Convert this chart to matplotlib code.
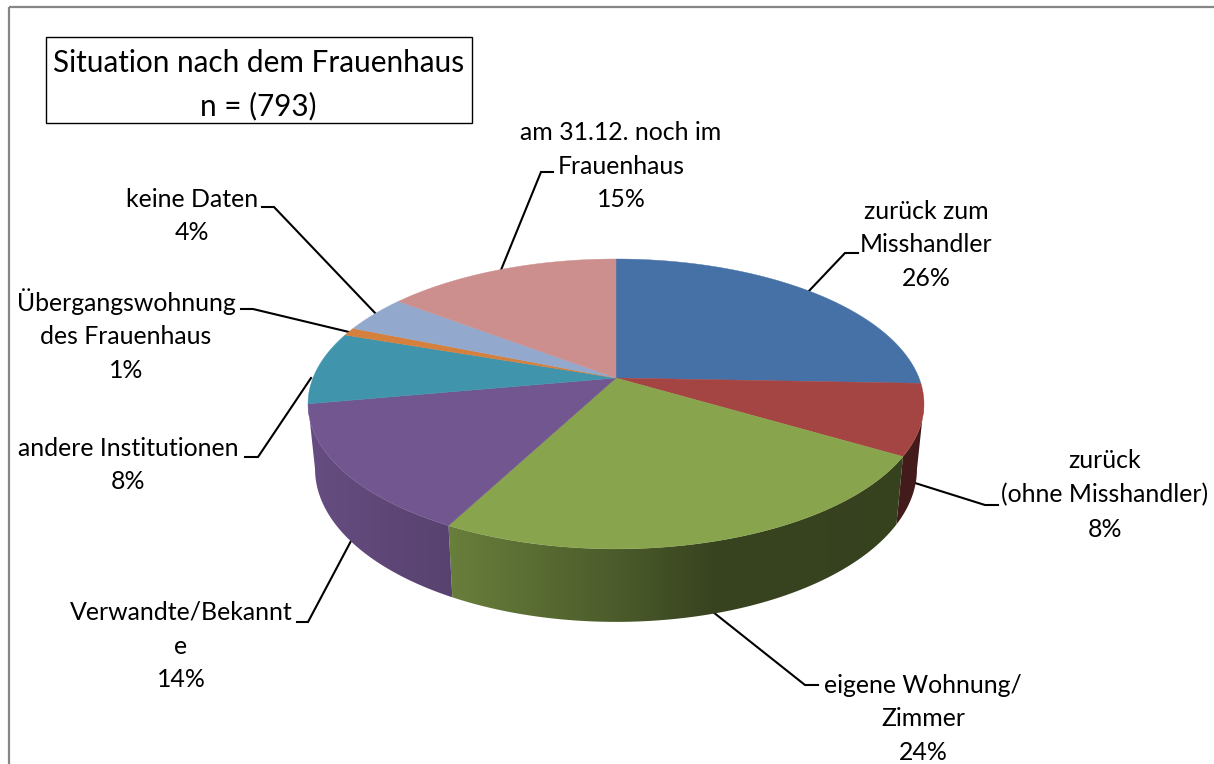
import numpy as np
import matplotlib
matplotlib.use("Agg")
import matplotlib.pyplot as plt
from matplotlib.patches import Polygon, Rectangle

# ---- data -------------------------------------------------------------
categories = ["zurück zum\nMisshandler", "zurück\n(ohne Misshandler)",
              "eigene Wohnung/\nZimmer", "Verwandte/Bekannt\ne",
              "andere Institutionen", "Übergangswohnung\ndes Frauenhaus",
              "keine Daten", "am 31.12. noch im\nFrauenhaus"]
shares = [25.6, 7.9, 24.2, 14.45, 8.1, 0.9, 4.2, 14.65]
colors = ["#4571A6", "#A54543", "#88A44D", "#725690",
          "#4095AD", "#D5803C", "#92A8CD", "#CD8F8E"]
title_lines = "Situation nach dem Frauenhaus\nn = (793)"

# ---- pie projection ---------------------------------------------------
CX, CY, B, A, K = 616.0, 378.0, 303.0, 140.3, 0.179
TOP_YC, TOP_RX, TOP_RY = 404.0, 308.0, 145.0
BOT_YC, BOT_RX, BOT_RY = 469.0, 301.0, 153.0


def top_rim(deg):
    t = np.radians(deg)
    X, Y = np.sin(t), np.cos(t)
    s = 1.0 / (1.0 + K * Y)
    return CX + B * X * s, CY - A * Y * s


def bottom_rim(deg):
    x, y = top_rim(deg)
    return CX + (x - CX) * BOT_RX / TOP_RX, BOT_YC + (y - TOP_YC) * BOT_RY / TOP_RY


def shade(x):
    return np.interp(x, [317, 451, 620, 713, 917], [0.89, 0.77, 0.55, 0.41, 0.40])


fig = plt.figure(figsize=(12.14, 7.64), dpi=100, facecolor="white")
ax = fig.add_axes([0, 0, 1, 1])
ax.axis("off")
plt.rcParams["font.family"] = ["Lato", "DejaVu Sans"]

# chart frame
ax.add_patch(Rectangle((9, 7), 1300, 900, fill=False, ec="#868686", lw=1.6))

edges = np.concatenate([[0], np.cumsum(shares)]) / np.sum(shares) * 360.0
ext = np.degrees(np.arccos(-K))

# side walls: horizontal gradient clipped to the wall outline
for i, col in enumerate(colors):
    a0 = max(edges[i], ext)
    a1 = min(edges[i + 1], 360 - ext)
    if a1 <= a0:
        continue
    th = np.linspace(a0, a1, max(3, int((a1 - a0) * 2)))
    tx, ty = top_rim(th)
    bx, by = bottom_rim(th)
    outline = np.column_stack([np.r_[tx, bx[::-1]], np.r_[ty, by[::-1]]])
    x0, x1 = outline[:, 0].min() - 2, outline[:, 0].max() + 2
    y0, y1 = outline[:, 1].min() - 2, outline[:, 1].max() + 2
    cols = np.arange(np.floor(x0), np.ceil(x1) + 1)
    base = np.array(matplotlib.colors.to_rgb(col))
    grad = base[None, None, :] * shade(cols)[None, :, None]
    im = ax.imshow(grad, extent=(cols[0], cols[-1], y1, y0), aspect="auto",
                   interpolation="bilinear", zorder=2)
    clip = Polygon(outline, closed=True, transform=ax.transData, fc="none", ec="none")
    ax.add_patch(clip)
    im.set_clip_path(clip)

# top faces
for i, col in enumerate(colors):
    th = np.linspace(edges[i], edges[i + 1], max(3, int(edges[i + 1] - edges[i]) * 2))
    x, y = top_rim(th)
    pts = np.column_stack([np.r_[CX, x], np.r_[CY, y]])
    ax.add_patch(Polygon(pts, closed=True, fc=col, ec=col, lw=0.3, zorder=3))

# leader lines
leaders = [
    [(808, 292), (845, 253), (858, 253)],
    [(915, 483), (985, 505), (998, 505)],
    [(713, 612), (805, 685), (818, 685)],
    [(351, 541), (308, 622), (297, 622)],
    [(311, 378), (258, 457), (245, 457)],
    [(349, 332), (253, 309), (241, 309)],
    [(376, 314), (274, 207), (262, 207)],
    [(501, 270), (541, 172), (553, 172)],
]
for pts in leaders:
    xs, ys = zip(*pts)
    ax.plot(xs, ys, color="black", lw=1.5, zorder=1, solid_joinstyle="miter")

# labels
label_pos = [(926, 245), (1105, 495), (923, 719), (181, 646),
             (128, 465), (126, 335), (192, 216), (621, 166)]
for name, v, (x, y) in zip(categories, shares, label_pos):
    ax.text(x, y, f"{name}\n{round(v)}%", ha="center", va="center",
            fontsize=17.9, color="black", linespacing=1.57, zorder=5)

# title box
ax.add_patch(Rectangle((45.5, 36.5), 426.5, 86, fc="white", ec="black", lw=1.0, zorder=4))
ax.text(258.5, 85, title_lines, ha="center", va="center", fontsize=21.4,
        color="black", linespacing=1.62, zorder=5)

ax.set_xlim(0, 1214)
ax.set_ylim(764, 0)
fig.savefig("out.png", dpi=100)
